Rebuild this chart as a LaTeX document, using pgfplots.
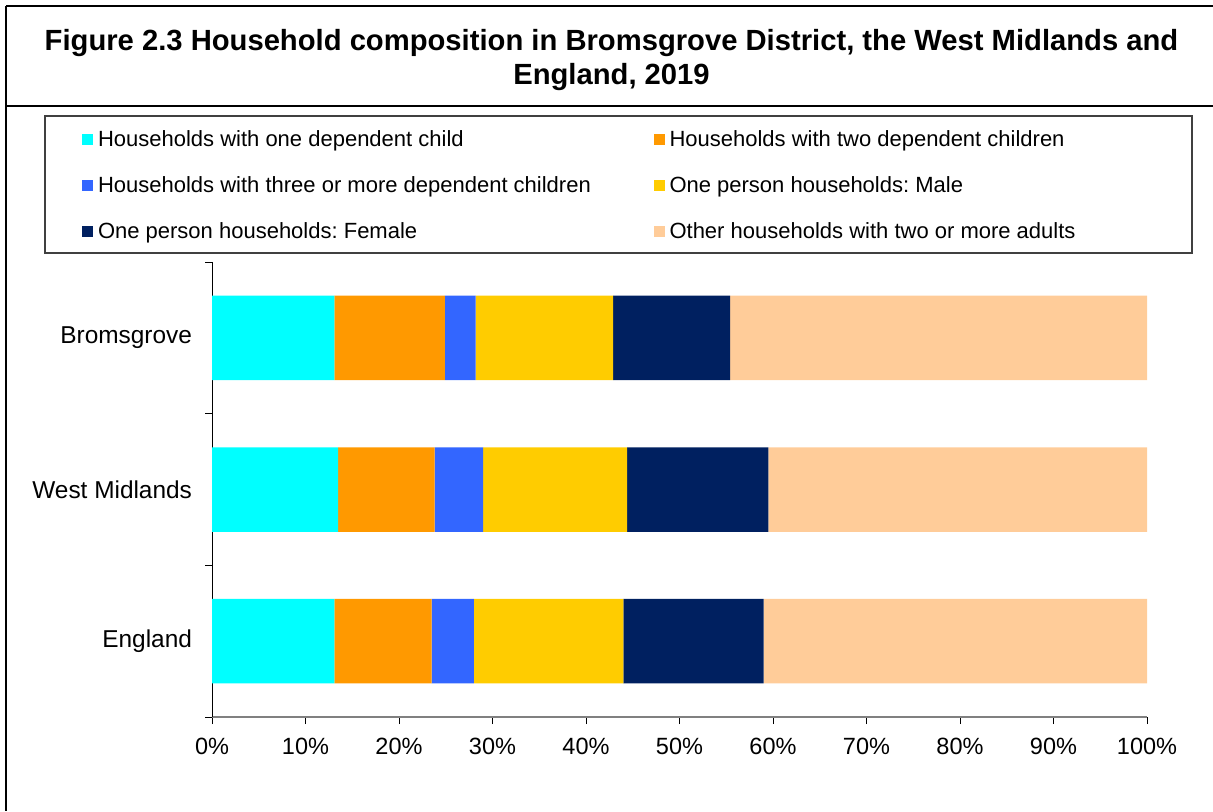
\documentclass[border=0pt]{standalone}
\usepackage{pgfplots}
\pgfplotsset{compat=1.18}
\usepackage{fontspec}
\setmainfont{Liberation Sans}
\frenchspacing
\definecolor{cOne}{HTML}{00FFFF}
\definecolor{cTwo}{HTML}{FF9900}
\definecolor{cThree}{HTML}{3366FF}
\definecolor{cMale}{HTML}{FFCC00}
\definecolor{cFemale}{HTML}{002060}
\definecolor{cOther}{HTML}{FFCC99}
\begin{document}
\begin{tikzpicture}
\useasboundingbox (0pt,0pt) rectangle (606.5pt,-405.5pt);
% outer frame and title box
\draw[line width=1pt] (3pt,-3pt) -- (606.5pt,-3pt);
\draw[line width=1pt] (3pt,-3pt) -- (3pt,-405.5pt);
\draw[line width=1pt] (3pt,-53pt) -- (606.5pt,-53pt);
\node[anchor=base,font=\fontsize{14.6}{17}\bfseries\selectfont,inner sep=0pt] at (305.75pt,-25pt) {Figure 2.3 Household composition in Bromsgrove District, the West Midlands and};
\node[anchor=base,font=\fontsize{14.6}{17}\bfseries\selectfont,inner sep=0pt] at (305.75pt,-42pt) {England, 2019};
% legend frame
\draw[black!75,line width=0.6pt] (22.5pt,-58pt) rectangle (596pt,-126.5pt);
\begin{axis}[
  at={(106pt,-358.5pt)}, anchor=south west,
  width=467.5pt, height=227.5pt, scale only axis,
  xbar stacked, bar width=0.557,
  xmin=0, xmax=100, ymin=-0.5, ymax=2.5,
  axis x line*=bottom, axis y line*=left,
  x axis line style={draw=black!50, line width=1.3pt},
  y axis line style={draw=black, line width=0.5pt},
  tick align=outside, major tick length=3.5pt,
  tick style={black, line width=0.5pt},
  xtick={0,10,...,100},
  xticklabels={0\%,10\%,20\%,30\%,40\%,50\%,60\%,70\%,80\%,90\%,100\%},
  ytick={-0.5,0.5,1.5,2.5}, yticklabels={},
  extra y ticks={0,1,2},
  extra y tick labels={England,West Midlands,Bromsgrove},
  extra y tick style={major tick length=0pt, yticklabel style={xshift=-6.5pt, font=\fontsize{12.2}{14}\selectfont}},
  ticklabel style={font=\fontsize{11.75}{14}\selectfont},
  xticklabel style={yshift=-3.5pt},
  legend columns=2,
  legend image code/.code={\fill[#1] (0pt,0.75pt) rectangle (5.5pt,6.25pt);},
  legend style={draw=none, fill=none, at={(-0.139,1.291)}, anchor=north west,
    inner sep=0pt, outer sep=0pt, row sep=12.5pt,
    font=\fontsize{11}{13}\selectfont,
    nodes={inner sep=0pt, text height=8.2pt, text depth=2.3pt, anchor=base west},
    /tikz/every odd column/.append style={column sep=2.5pt},
    /tikz/every even column/.append style={column sep=0pt}},
]
\addplot[fill=cOne, draw=none] coordinates {(13.1,2) (13.5,1) (13.1,0)};
\addlegendentry{\makebox[277.75pt][l]{Households with one dependent child}}
\addplot[fill=cTwo, draw=none] coordinates {(11.8,2) (10.3,1) (10.4,0)};
\addlegendentry{Households with two dependent children}
\addplot[fill=cThree, draw=none] coordinates {(3.3,2) (5.2,1) (4.5,0)};
\addlegendentry{\makebox[277.75pt][l]{Households with three or more dependent children}}
\addplot[fill=cMale, draw=none] coordinates {(14.7,2) (15.4,1) (16.0,0)};
\addlegendentry{One person households: Male}
\addplot[fill=cFemale, draw=none] coordinates {(12.5,2) (15.1,1) (15.0,0)};
\addlegendentry{\makebox[277.75pt][l]{One person households: Female}}
\addplot[fill=cOther, draw=none] coordinates {(44.6,2) (40.5,1) (41.0,0)};
\addlegendentry{Other households with two or more adults}
\end{axis}
\end{tikzpicture}
\end{document}
